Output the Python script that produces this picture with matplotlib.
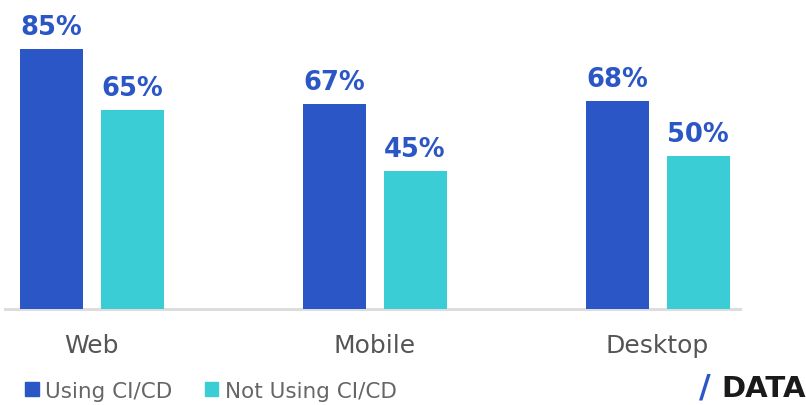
import matplotlib.pyplot as plt
import numpy as np
from matplotlib.patches import Patch

# data
categories = ["Web", "Mobile", "Desktop"]
using_cicd = [85, 67, 68]
not_using_cicd = [65, 45, 50]
series_names = ["Using CI/CD", "Not Using CI/CD"]

BLUE = "#2b56c6"
CYAN = "#3bcdd5"
GREY = "#555555"
W, H = 806, 406

fig = plt.figure(figsize=(W / 100, H / 100), dpi=100)
ax = fig.add_axes([5 / W, 96 / H, 735 / W, 306 / H])

x = np.arange(len(categories))
width = 63 / 283
off = 40.5 / 283
b1 = ax.bar(x - off, using_cicd, width, color=BLUE, zorder=2)
b2 = ax.bar(x + off, not_using_cicd, width, color=CYAN, zorder=2)

# value labels above bars
for bars in (b1, b2):
    for rect in bars:
        h = rect.get_height()
        ax.annotate(f"{h:.0f}%", (rect.get_x() + rect.get_width() / 2, h),
                    xytext=(0, 11), textcoords="offset points",
                    ha="center", va="baseline", fontsize=18.5,
                    fontweight="bold", color=BLUE)

# category labels under the baseline
for i, name in enumerate(categories):
    ax.annotate(name, (x[i], 0), xycoords=("data", "axes fraction"),
                xytext=(0, -31), textcoords="offset points",
                ha="center", va="baseline", fontsize=18, color=GREY)

ax.axhline(0, color="#dddddd", lw=2.2, zorder=1, clip_on=False)
ax.set_xlim((5 - 91.5) / 283, (740 - 91.5) / 283)
ax.set_ylim(0, 100)
ax.axis("off")

handles = [Patch(color=BLUE), Patch(color=CYAN)]
fig.legend(handles, series_names, loc="lower left",
           bbox_to_anchor=(25 / W, 4 / H), ncol=2, frameon=False,
           fontsize=15.5, labelcolor="#666666", handlelength=0.63,
           handleheight=0.63, handletextpad=0.3, columnspacing=1.5,
           borderpad=0, borderaxespad=0)

# logo
fig.text(699 / W, 9 / H, "/", color=BLUE, fontsize=23, fontweight="bold",
         va="baseline")
fig.text(806 / W, 9 / H, "DATA", color="#1a1a1a", fontsize=21,
         fontweight="bold", ha="right", va="baseline")

fig.savefig("out.png", dpi=100)
